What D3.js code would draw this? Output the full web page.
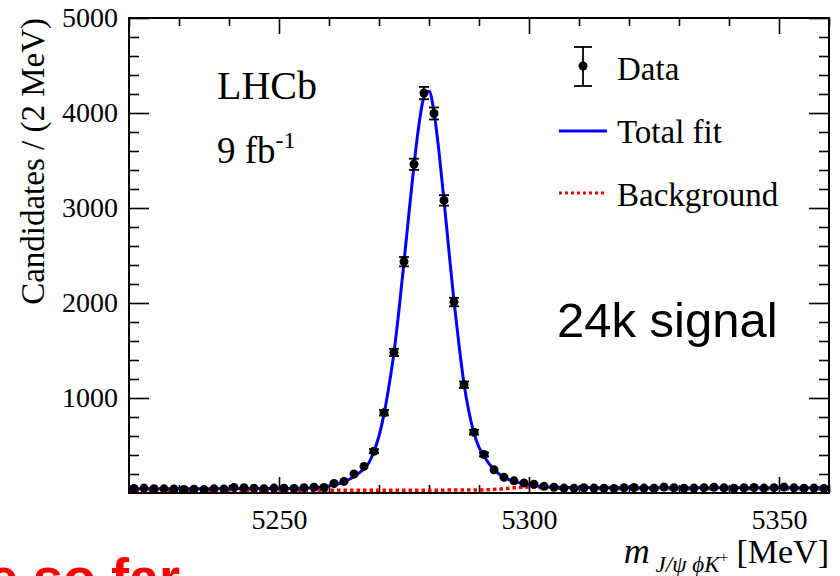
<!DOCTYPE html>
<html>
<head>
<meta charset="utf-8">
<script src="https://cdn.jsdelivr.net/npm/d3@7"></script>
<style>
  body { margin: 0; background: #fff; }
  svg { display: block; }
</style>
</head>
<body>
<div id="chart"></div>
<script>
// 2 MeV bins between 5220 and 5360
const binCenters = d3.range(5221, 5360, 2);
const counts = [
  48, 52, 46, 44, 42, 38, 40, 36, 44, 42, 58, 55, 50, 46, 52, 50, 47, 56, 60, 58,
  100, 122, 200, 280, 440, 845, 1480, 2435, 3460, 4210, 3995, 3080, 2010, 1140, 640, 405, 245, 165, 128, 105, 92, 70,
  60, 52, 50, 55, 52, 50, 48, 55, 58, 52, 50, 62, 55, 50, 52, 56, 60, 54, 50, 55, 58, 52, 56, 62, 54, 50, 52, 48
];
// total fit
const fitMass = [5220, 5230, 5240, 5250, 5256, 5258, 5260, 5262, 5264, 5266, 5268,
  5269, 5270, 5271, 5272, 5273, 5274, 5275, 5276, 5277, 5278, 5279, 5280, 5281, 5282, 5283, 5284, 5285, 5286, 5287, 5288, 5289, 5290, 5291,
  5292, 5294, 5296, 5298, 5300, 5302, 5305, 5310, 5320, 5340, 5360];
const fitValues = [45, 45, 46, 47, 52, 60, 75, 100, 142, 210, 320,
  440, 600, 830, 1130, 1480, 1930, 2430, 2950, 3450, 3880, 4170, 4230, 4010, 3590, 3080, 2540, 2020, 1560, 1150, 850, 630, 480, 390,
  310, 200, 140, 108, 86, 72, 62, 57, 55, 54, 54];
// background component
const bkgMass = [5220, 5250, 5280, 5290, 5294, 5297, 5300, 5303, 5310, 5330, 5360];
const bkgValues = [30, 30, 30, 32, 40, 55, 62, 55, 48, 45, 44];

const xMajor = [5250, 5300, 5350];
const yMajor = [1000, 2000, 3000, 4000, 5000];
const legendLabels = ["Data", "Total fit", "Background"];

const width = 840, height = 576;
const frame = { left: 129, right: 829, top: 18, bottom: 493 };
const serif = "'Liberation Serif', 'Times New Roman', serif";
const sans = "'Liberation Sans', Arial, sans-serif";

const svg = d3.select("#chart").append("svg")
  .attr("width", width)
  .attr("height", height)
  .attr("viewBox", "0 0 " + width + " " + height);

svg.append("rect").attr("width", width).attr("height", height).attr("fill", "#fff");

const x = d3.scaleLinear().domain([5220, 5360]).range([frame.left, frame.right]);
const y = d3.scaleLinear().domain([0, 5000]).range([frame.bottom, frame.top]);

const xMinor = d3.range(5220, 5361, 10).filter(v => v % 50 !== 0);
const yMinor = d3.range(200, 5000, 200).filter(v => v % 1000 !== 0);

function styleAxis(g) {
  g.select(".domain").remove();
  g.selectAll("line").attr("stroke", "#000").attr("stroke-width", 1.6);
  g.selectAll("text").attr("font-family", serif).attr("font-size", 28).attr("fill", "#000");
}

// bottom axis
svg.append("g").attr("transform", "translate(0," + frame.bottom + ")")
  .call(d3.axisBottom(x).tickValues(xMinor).tickSize(-8).tickFormat(""))
  .call(styleAxis);
svg.append("g").attr("transform", "translate(0," + frame.bottom + ")")
  .call(d3.axisBottom(x).tickValues(xMajor).tickSize(-16).tickPadding(16).tickFormat(d3.format("d")))
  .call(styleAxis);
// top axis
svg.append("g").attr("transform", "translate(0," + frame.top + ")")
  .call(d3.axisTop(x).tickValues(xMinor).tickSize(-8).tickFormat(""))
  .call(styleAxis);
svg.append("g").attr("transform", "translate(0," + frame.top + ")")
  .call(d3.axisTop(x).tickValues(xMajor).tickSize(-16).tickFormat(""))
  .call(styleAxis);
// left axis
svg.append("g").attr("transform", "translate(" + frame.left + ",0)")
  .call(d3.axisLeft(y).tickValues(yMinor).tickSize(-10).tickFormat(""))
  .call(styleAxis);
svg.append("g").attr("transform", "translate(" + frame.left + ",0)")
  .call(d3.axisLeft(y).tickValues(yMajor).tickSize(-20).tickPadding(11).tickFormat(d3.format("d")))
  .call(styleAxis);
// right axis
svg.append("g").attr("transform", "translate(" + frame.right + ",0)")
  .call(d3.axisRight(y).tickValues(yMinor).tickSize(-10).tickFormat(""))
  .call(styleAxis);
svg.append("g").attr("transform", "translate(" + frame.right + ",0)")
  .call(d3.axisRight(y).tickValues(yMajor).tickSize(-20).tickFormat(""))
  .call(styleAxis);

svg.append("defs").append("clipPath").attr("id", "plot-clip")
  .append("rect")
  .attr("x", frame.left).attr("y", frame.top)
  .attr("width", frame.right - frame.left).attr("height", frame.bottom - frame.top);

const plot = svg.append("g").attr("clip-path", "url(#plot-clip)");

const line = d3.line()
  .x(d => x(d[0]))
  .y(d => y(d[1]))
  .curve(d3.curveMonotoneX);

plot.append("path")
  .datum(d3.zip(bkgMass, bkgValues))
  .attr("d", line)
  .attr("fill", "none")
  .attr("stroke", "#ff0000")
  .attr("stroke-width", 3.5)
  .attr("stroke-dasharray", "3.5,3");

plot.append("path")
  .datum(d3.zip(fitMass, fitValues))
  .attr("d", line)
  .attr("fill", "none")
  .attr("stroke", "#0000ff")
  .attr("stroke-width", 3);

// data points with poisson errors
const points = plot.selectAll("g.pt")
  .data(d3.zip(binCenters, counts))
  .enter().append("g").attr("class", "pt");

points.append("line")
  .attr("x1", d => x(d[0])).attr("x2", d => x(d[0]))
  .attr("y1", d => y(d[1] + Math.sqrt(d[1])))
  .attr("y2", d => y(d[1] - Math.sqrt(d[1])))
  .attr("stroke", "#000").attr("stroke-width", 1.8);
points.filter(d => d[1] > 300).append("line")
  .attr("x1", d => x(d[0]) - 5).attr("x2", d => x(d[0]) + 5)
  .attr("y1", d => y(d[1] + Math.sqrt(d[1])))
  .attr("y2", d => y(d[1] + Math.sqrt(d[1])))
  .attr("stroke", "#000").attr("stroke-width", 1.8);
points.filter(d => d[1] > 300).append("line")
  .attr("x1", d => x(d[0]) - 5).attr("x2", d => x(d[0]) + 5)
  .attr("y1", d => y(d[1] - Math.sqrt(d[1])))
  .attr("y2", d => y(d[1] - Math.sqrt(d[1])))
  .attr("stroke", "#000").attr("stroke-width", 1.8);
points.append("circle")
  .attr("cx", d => x(d[0]))
  .attr("cy", d => y(d[1]))
  .attr("r", 4.5)
  .attr("fill", "#000");

// frame
svg.append("rect")
  .attr("x", frame.left).attr("y", frame.top)
  .attr("width", frame.right - frame.left).attr("height", frame.bottom - frame.top)
  .attr("fill", "none").attr("stroke", "#000").attr("stroke-width", 2);

// axis titles
svg.append("text")
  .attr("transform", "translate(44," + frame.top + ") rotate(-90)")
  .attr("text-anchor", "end")
  .attr("font-family", serif).attr("font-size", 33)
  .text("Candidates / (2 MeV)");

const xt = svg.append("text")
  .attr("x", frame.right).attr("y", 563)
  .attr("text-anchor", "end")
  .attr("font-family", serif).attr("font-size", 34);
xt.append("tspan").attr("font-style", "italic").attr("font-size", 36).text("m");
xt.append("tspan").attr("font-style", "italic").attr("font-size", 23).attr("dy", 9).text(" J/\u03C8 \u03D5K");
xt.append("tspan").attr("font-size", 15).attr("dy", -10).text("+");
xt.append("tspan").attr("dy", 1).text(" [MeV]");

// LHCb label
svg.append("text").attr("x", 217).attr("y", 99)
  .attr("font-family", serif).attr("font-size", 40).text("LHCb");
const lumi = svg.append("text").attr("x", 217).attr("y", 163)
  .attr("font-family", serif).attr("font-size", 37);
lumi.append("tspan").text("9 fb");
lumi.append("tspan").attr("font-size", 24).attr("dy", -15).text("-1");

// legend
const leg = svg.append("g").attr("font-family", serif).attr("font-size", 33);
leg.append("line").attr("x1", 583).attr("x2", 583).attr("y1", 47).attr("y2", 86)
  .attr("stroke", "#000").attr("stroke-width", 1.8);
leg.append("line").attr("x1", 574).attr("x2", 592).attr("y1", 47).attr("y2", 47)
  .attr("stroke", "#000").attr("stroke-width", 1.8);
leg.append("line").attr("x1", 574).attr("x2", 592).attr("y1", 86).attr("y2", 86)
  .attr("stroke", "#000").attr("stroke-width", 1.8);
leg.append("circle").attr("cx", 583).attr("cy", 66).attr("r", 4.5).attr("fill", "#000");
leg.append("line").attr("x1", 559).attr("x2", 607).attr("y1", 131).attr("y2", 131)
  .attr("stroke", "#0000ff").attr("stroke-width", 3);
leg.append("line").attr("x1", 559).attr("x2", 607).attr("y1", 193).attr("y2", 193)
  .attr("stroke", "#ff0000").attr("stroke-width", 3).attr("stroke-dasharray", "3,3");
leg.selectAll("text.lab").data(legendLabels).enter().append("text")
  .attr("class", "lab")
  .attr("x", 617)
  .attr("y", (d, i) => 80 + i * 63)
  .text(d => d);

// annotations
svg.append("text").attr("x", 557).attr("y", 337)
  .attr("font-family", sans).attr("font-size", 49).attr("fill", "#000")
  .text("24k signal");
svg.append("text").attr("x", -12).attr("y", 596)
  .attr("font-family", sans).attr("font-size", 54).attr("font-weight", "bold").attr("fill", "#ff0000")
  .text("e so far");
</script>
</body>
</html>
